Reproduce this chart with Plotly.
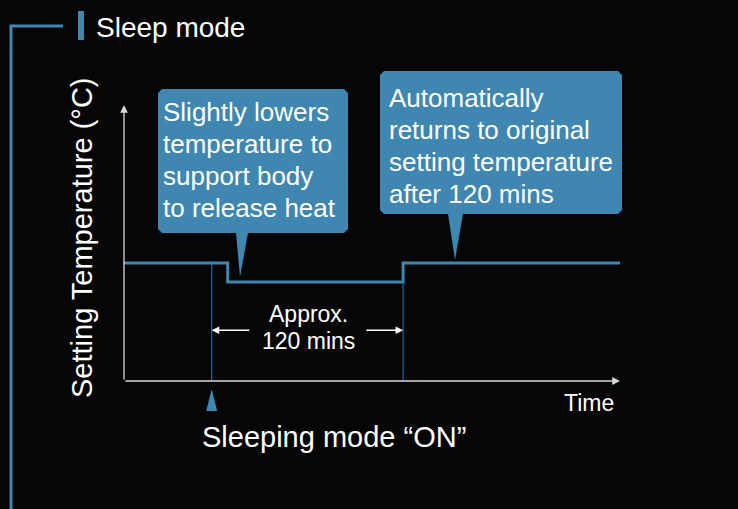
import plotly.graph_objects as go

# --> Data (time in minutes after "Sleeping mode ON", relative setting temperature)
time_min = [-55, 10, 120, 256]
setting_temp = [1.0, 0.84, 1.0, 1.0]
sleep_on_min = 0
sleep_end_min = 120
temp_at_markers = [1.0, 0.84]

callout_left = ["Slightly lowers", "temperature to", "support body", "to release heat"]
callout_right = ["Automatically", "returns to original", "setting temperature", "after 120 mins"]

BG = "#060606"
BLUE = "#3f86b0"
FONT = "Liberation Sans, Arial, sans-serif"
W, H = 738, 509
L, R, T, B = 124, 118, 105, 128
X_RANGE = [-55, 256]
Y_RANGE = [0, 2.34]


def px(x, y):
    # pixel position -> paper coords
    return (x - L) / (W - L - R), (H - B - y) / (H - T - B)


def data_to_px_x(t):
    return L + (t - X_RANGE[0]) / (X_RANGE[1] - X_RANGE[0]) * (W - L - R)


def path_px(points, close=True):
    s = ""
    for i, (x, y) in enumerate(points):
        xp, yp = px(x, y)
        s += ("M" if i == 0 else "L") + f"{xp:.5f},{yp:.5f} "
    return s + ("Z" if close else "")


def bubble(x0, y0, x1, y1, tip, base0, base1, r=4):
    pts = [(x0 + r, y0), (x1 - r, y0), (x1, y0 + r), (x1, y1 - r), (x1 - r, y1),
           (base1, y1), tip, (base0, y1),
           (x0 + r, y1), (x0, y1 - r), (x0, y0 + r)]
    return path_px(pts)


fig = go.Figure()

# --> Step line
fig.add_trace(go.Scatter(x=time_min, y=setting_temp, mode="lines", line_shape="hv",
                         line=dict(color=BLUE, width=3), hoverinfo="skip"))

# --> Thin marker lines at start / end of sleeping period
for t, v in zip([sleep_on_min, sleep_end_min], temp_at_markers):
    fig.add_trace(go.Scatter(x=[t, t], y=[0, v], mode="lines",
                             line=dict(color="#2a78c8", width=1), hoverinfo="skip"))

xs = data_to_px_x(sleep_on_min)
shapes = [
    dict(type="path", xref="paper", yref="paper", path=path_px([(63, 26), (11, 26), (11, 520)], close=False),
         line=dict(color=BLUE, width=3)),
    dict(type="path", xref="paper", yref="paper", path=path_px([(78, 11), (84, 11), (84, 40), (78, 40)]),
         fillcolor=BLUE, line=dict(width=0)),
    dict(type="path", xref="paper", yref="paper", path=bubble(158, 89, 348, 233, (240, 277), 236, 248),
         fillcolor=BLUE, line=dict(width=0)),
    dict(type="path", xref="paper", yref="paper", path=bubble(380, 71, 622, 214, (455, 260), 448, 463),
         fillcolor=BLUE, line=dict(width=0)),
    # triangle under "Sleeping mode ON"
    dict(type="path", xref="paper", yref="paper", path=path_px([(xs, 389), (xs + 5.5, 411), (xs - 5.5, 411)]),
         fillcolor=BLUE, line=dict(width=0)),
]

annotations = []

# --> Axes drawn as arrows
annotations.append(dict(x=X_RANGE[1], y=0, ax=X_RANGE[0], ay=0, xref="x", yref="y", axref="x", ayref="y",
                        text="", showarrow=True, arrowhead=2, arrowsize=1.2, arrowwidth=1.3,
                        arrowcolor="#d8d8d8"))
annotations.append(dict(x=X_RANGE[0], y=Y_RANGE[1], ax=X_RANGE[0], ay=0, xref="x", yref="y", axref="x",
                        ayref="y", text="", showarrow=True, arrowhead=2, arrowsize=1.2, arrowwidth=1.3,
                        arrowcolor="#d8d8d8"))

# --> Approx. 120 mins arrows
annotations.append(dict(x=sleep_on_min, y=0.43, ax=24.5, ay=0.43, xref="x", yref="y", axref="x", ayref="y",
                        text="", showarrow=True, arrowhead=2, arrowsize=1, arrowwidth=1.5, arrowcolor="white"))
annotations.append(dict(x=sleep_end_min, y=0.43, ax=96, ay=0.43, xref="x", yref="y", axref="x", ayref="y",
                        text="", showarrow=True, arrowhead=2, arrowsize=1, arrowwidth=1.5, arrowcolor="white"))
for text, yy in [("Approx.", 314), ("120 mins", 341)]:
    xp, yp = px(308, yy)
    annotations.append(dict(x=xp, y=yp, xref="paper", yref="paper", text=text, showarrow=False,
                            yanchor="middle", font=dict(size=23, color="white", family=FONT)))

# --> Callout texts, one annotation per line for tight spacing
for lines, x0, y0 in [(callout_left, 163, 112), (callout_right, 389, 98)]:
    for i, line in enumerate(lines):
        xp, yp = px(x0, y0 + 32 * i)
        annotations.append(dict(x=xp, y=yp, xref="paper", yref="paper", xanchor="left", yanchor="middle",
                                text=line, showarrow=False, xshift=-2,
                                font=dict(size=26, color="white", family=FONT)))

# --> Other labels
for text, (x0, y0), size, anchor, angle in [
    ("Sleep mode", (94, 27), 28, "left", 0),
    ("Setting Temperature (°C)", (82, 238), 29, "center", -90),
    ("Time", (616, 403), 23, "right", 0),
    ("Sleeping mode \u201cON\u201d", (334, 437), 29, "center", 0),
]:
    xp, yp = px(x0, y0)
    annotations.append(dict(x=xp, y=yp, xref="paper", yref="paper", xanchor=anchor, yanchor="middle",
                            text=text, showarrow=False, textangle=angle,
                            font=dict(size=size, color="white", family=FONT)))

fig.update_layout(width=W, height=H, margin=dict(l=L, r=R, t=T, b=B),
                  paper_bgcolor=BG, plot_bgcolor=BG, showlegend=False,
                  shapes=shapes, annotations=annotations,
                  xaxis=dict(range=X_RANGE, visible=False, fixedrange=True),
                  yaxis=dict(range=Y_RANGE, visible=False, fixedrange=True))

fig.write_html("out.html", config={"displayModeBar": False},
               post_script="document.body.style.margin='0';document.body.style.background='#060606';")
